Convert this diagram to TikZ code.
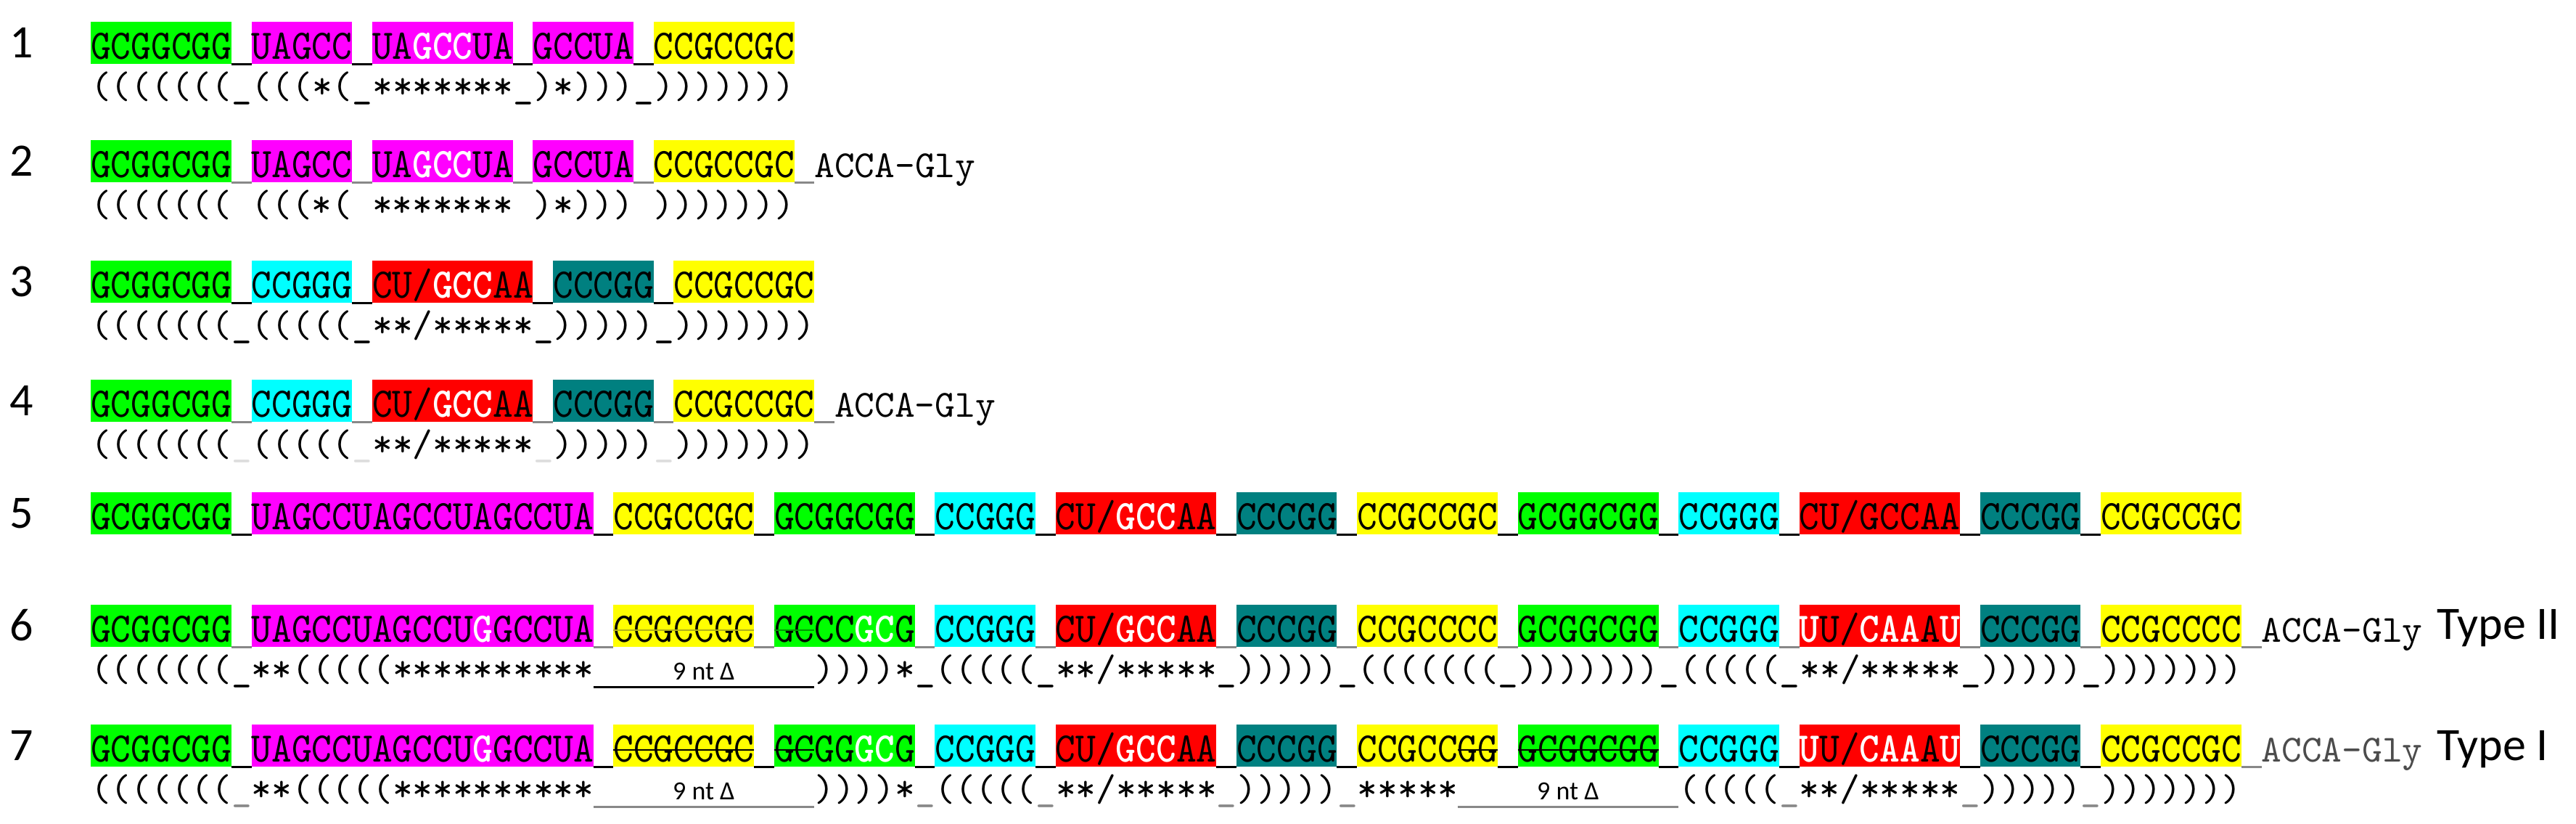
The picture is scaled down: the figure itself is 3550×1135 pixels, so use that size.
\documentclass[tikz,border=0pt]{standalone}
\usepackage{fontspec}
\newfontfamily\monof{lmmono10-regular.otf}[BoldFont=lmmonolt10-bold.otf]
\newfontfamily\labf{Carlito}
\definecolor{cgreen}{HTML}{00FF00}
\definecolor{cmag}{HTML}{FF00FF}
\definecolor{cyel}{HTML}{FFFF00}
\definecolor{ccyan}{HTML}{00FFFF}
\definecolor{cred}{HTML}{FF0000}
\definecolor{cteal}{HTML}{008080}
\definecolor{ugray}{HTML}{888888}
\definecolor{ulight}{HTML}{DDDDDD}
\newcommand\uB{\_}
\newcommand\uG{\textcolor{ugray}{\_}}
\newcommand\uL{\textcolor{ulight}{\_}}
\newcommand\W[1]{{\bfseries\color{white}#1}}
\newcommand\xc[1]{125+27.7*(#1)}
\newcommand\seg[5]{%
  \fill[#4] ({\xc{#2}},{#1-29}) rectangle ({\xc{#2+#3}},{#1+29});
  \node[seqtext] at ({\xc{#2}},{#1+22}) {\scalebox{1}[1.1]{#5}};}
\newcommand\gapl[3]{\draw[line width=3pt,#3] ({\xc{#2}},{#1+29}) -- ({\xc{#2+1}},{#1+29});}
\newcommand\strk[4]{\draw[line width=2.5pt,#4] ({\xc{#2}},{#1+6}) -- ({\xc{#2+#3}},{#1+6});}
\newcommand\st[3]{\node[seqtext] at ({\xc{#2}},{#1+76}) {#3};}
\newcommand\dele[4]{%
  \draw[line width=3pt,#4] ({\xc{#2}},{#1+84}) -- ({\xc{#2+#3}},{#1+84});
  \node[deltext] at ({\xc{#2+#3/2}},{#1+74}) {9 nt Δ};}
\tikzset{
  seqtext/.style={anchor=base west,inner sep=0pt,font=\monof\fontsize{52.8}{52.8}\selectfont},
  deltext/.style={anchor=base,inner sep=0pt,font=\labf\fontsize{36}{36}\selectfont},
  rowlabel/.style={anchor=base,inner sep=0pt,font=\labf\fontsize{64}{64}\selectfont},
}
\begin{document}
\begin{tikzpicture}[x=1pt,y=-1pt]
\useasboundingbox (0,0) rectangle (3550,1135);
% ---------- row 1
\def\Y{59}
\node[rowlabel] (n1) at (30,{\Y+20}) {1};
\seg{\Y}{0}{7}{cgreen}{GCGGCGG}\gapl{\Y}{7}{black}
\seg{\Y}{8}{5}{cmag}{UAGCC}\gapl{\Y}{13}{black}
\seg{\Y}{14}{7}{cmag}{UA\W{GCC}UA}\gapl{\Y}{21}{black}
\seg{\Y}{22}{5}{cmag}{GCCUA}\gapl{\Y}{27}{black}
\seg{\Y}{28}{7}{cyel}{CCGCCGC}
\st{\Y}{0}{(((((((\uB(((*(\uB*******\uB)*)))\uB)))))))}
% ---------- row 2
\def\Y{222}
\node[rowlabel] (n2) at (30,{\Y+20}) {2};
\seg{\Y}{0}{7}{cgreen}{GCGGCGG}\gapl{\Y}{7}{ugray}
\seg{\Y}{8}{5}{cmag}{UAGCC}\gapl{\Y}{13}{ugray}
\seg{\Y}{14}{7}{cmag}{UA\W{GCC}UA}\gapl{\Y}{21}{ugray}
\seg{\Y}{22}{5}{cmag}{GCCUA}\gapl{\Y}{27}{ugray}
\seg{\Y}{28}{7}{cyel}{CCGCCGC}\gapl{\Y}{35}{ugray}
\node[seqtext] at ({\xc{36}},{\Y+22}) {ACCA-Gly};
\st{\Y}{0}{(((((((}\st{\Y}{8}{(((*(}\st{\Y}{14}{*******}\st{\Y}{22}{)*)))}\st{\Y}{28}{)))))))}
% ---------- row 3
\def\Y{388}
\node[rowlabel] (n3) at (30,{\Y+20}) {3};
\seg{\Y}{0}{7}{cgreen}{GCGGCGG}\gapl{\Y}{7}{black}
\seg{\Y}{8}{5}{ccyan}{CCGGG}\gapl{\Y}{13}{black}
\seg{\Y}{14}{8}{cred}{CU/\W{GCC}AA}\gapl{\Y}{22}{black}
\seg{\Y}{23}{5}{cteal}{CCCGG}\gapl{\Y}{28}{black}
\seg{\Y}{29}{7}{cyel}{CCGCCGC}
\st{\Y}{0}{(((((((\uB(((((\uB**/*****\uB)))))\uB)))))))}
% ---------- row 4
\def\Y{552}
\node[rowlabel] (n4) at (30,{\Y+20}) {4};
\seg{\Y}{0}{7}{cgreen}{GCGGCGG}\gapl{\Y}{7}{ugray}
\seg{\Y}{8}{5}{ccyan}{CCGGG}\gapl{\Y}{13}{ugray}
\seg{\Y}{14}{8}{cred}{CU/\W{GCC}AA}\gapl{\Y}{22}{ugray}
\seg{\Y}{23}{5}{cteal}{CCCGG}\gapl{\Y}{28}{ugray}
\seg{\Y}{29}{7}{cyel}{CCGCCGC}\gapl{\Y}{36}{ugray}
\node[seqtext] at ({\xc{37}},{\Y+22}) {ACCA-Gly};
\st{\Y}{0}{(((((((\uL(((((\uL**/*****\uL)))))\uL)))))))}
% ---------- row 5
\def\Y{707}
\node[rowlabel] (n5) at (30,{\Y+20}) {5};
\seg{\Y}{0}{7}{cgreen}{GCGGCGG}\gapl{\Y}{7}{black}
\seg{\Y}{8}{17}{cmag}{UAGCCUAGCCUAGCCUA}\gapl{\Y}{25}{black}
\seg{\Y}{26}{7}{cyel}{CCGCCGC}\gapl{\Y}{33}{black}
\seg{\Y}{34}{7}{cgreen}{GCGGCGG}\gapl{\Y}{41}{black}
\seg{\Y}{42}{5}{ccyan}{CCGGG}\gapl{\Y}{47}{black}
\seg{\Y}{48}{8}{cred}{CU/\W{GCC}AA}\gapl{\Y}{56}{black}
\seg{\Y}{57}{5}{cteal}{CCCGG}\gapl{\Y}{62}{black}
\seg{\Y}{63}{7}{cyel}{CCGCCGC}\gapl{\Y}{70}{black}
\seg{\Y}{71}{7}{cgreen}{GCGGCGG}\gapl{\Y}{78}{black}
\seg{\Y}{79}{5}{ccyan}{CCGGG}\gapl{\Y}{84}{black}
\seg{\Y}{85}{8}{cred}{CU/GCCAA}\gapl{\Y}{93}{black}
\seg{\Y}{94}{5}{cteal}{CCCGG}\gapl{\Y}{99}{black}
\seg{\Y}{100}{7}{cyel}{CCGCCGC}
% ---------- row 6
\def\Y{862}
\node[rowlabel] (n6) at (30,{\Y+20}) {6};
\seg{\Y}{0}{7}{cgreen}{GCGGCGG}\gapl{\Y}{7}{ugray}
\seg{\Y}{8}{17}{cmag}{UAGCCUAGCCU\W{G}GCCUA}\gapl{\Y}{25}{ugray}
\seg{\Y}{26}{7}{cyel}{CCGCCGC}\gapl{\Y}{33}{ugray}
\seg{\Y}{34}{7}{cgreen}{GCCC\W{GC}G}\gapl{\Y}{41}{ugray}
\seg{\Y}{42}{5}{ccyan}{CCGGG}\gapl{\Y}{47}{ugray}
\seg{\Y}{48}{8}{cred}{CU/\W{GCC}AA}\gapl{\Y}{56}{ugray}
\seg{\Y}{57}{5}{cteal}{CCCGG}\gapl{\Y}{62}{ugray}
\seg{\Y}{63}{7}{cyel}{CCGCCCC}\gapl{\Y}{70}{ugray}
\seg{\Y}{71}{7}{cgreen}{GCGGCGG}\gapl{\Y}{78}{ugray}
\seg{\Y}{79}{5}{ccyan}{CCGGG}\gapl{\Y}{84}{ugray}
\seg{\Y}{85}{8}{cred}{\W{U}U/\W{CAA}A\W{U}}\gapl{\Y}{93}{ugray}
\seg{\Y}{94}{5}{cteal}{CCCGG}\gapl{\Y}{99}{ugray}
\seg{\Y}{100}{7}{cyel}{CCGCCCC}\gapl{\Y}{107}{ugray}
\strk{\Y}{26}{7}{black!25!cyel!80!gray}\strk{\Y}{34}{2}{black!40!cgreen}
\node[seqtext] at ({\xc{108}},{\Y+22}) {ACCA-Gly};
\node[rowlabel,anchor=base west] (t6) at (3358,{\Y+18}) {Type II};
\st{\Y}{0}{(((((((\uB**(((((**********}
\dele{\Y}{25}{11}{black}
\st{\Y}{36}{))))*\uB(((((\uB**/*****\uB)))))\uB(((((((\uB)))))))\uB(((((\uB**/*****\uB)))))\uB)))))))}
% ---------- row 7
\def\Y{1027}
\node[rowlabel] (n7) at (30,{\Y+20}) {7};
\seg{\Y}{0}{7}{cgreen}{GCGGCGG}\gapl{\Y}{7}{black}
\seg{\Y}{8}{17}{cmag}{UAGCCUAGCCU\W{G}GCCUA}\gapl{\Y}{25}{black}
\seg{\Y}{26}{7}{cyel}{CCGCCGC}\gapl{\Y}{33}{black}
\seg{\Y}{34}{7}{cgreen}{GCGG\W{GC}G}\gapl{\Y}{41}{black}
\seg{\Y}{42}{5}{ccyan}{CCGGG}\gapl{\Y}{47}{black}
\seg{\Y}{48}{8}{cred}{CU/\W{GCC}AA}\gapl{\Y}{56}{black}
\seg{\Y}{57}{5}{cteal}{CCCGG}\gapl{\Y}{62}{black}
\seg{\Y}{63}{7}{cyel}{CCGCCGG}\gapl{\Y}{70}{black}
\seg{\Y}{71}{7}{cgreen}{GCGGCGG}\gapl{\Y}{78}{black}
\seg{\Y}{79}{5}{ccyan}{CCGGG}\gapl{\Y}{84}{black}
\seg{\Y}{85}{8}{cred}{\W{U}U/\W{CAA}A\W{U}}\gapl{\Y}{93}{black}
\seg{\Y}{94}{5}{cteal}{CCCGG}\gapl{\Y}{99}{black}
\seg{\Y}{100}{7}{cyel}{CCGCCGC}\gapl{\Y}{107}{ugray}
\strk{\Y}{26}{7}{black}\strk{\Y}{34}{2}{black}\strk{\Y}{68}{2}{black}\strk{\Y}{71}{7}{black}
\node[seqtext,text=black!70] at ({\xc{108}},{\Y+22}) {ACCA-Gly};
\node[rowlabel,anchor=base west] (t7) at (3358,{\Y+20}) {Type I};
\st{\Y}{0}{(((((((\uG**(((((**********}
\dele{\Y}{25}{11}{ugray}
\st{\Y}{36}{))))*\uG(((((\uG**/*****\uG)))))\uG*****}
\dele{\Y}{68}{11}{ugray}
\st{\Y}{79}{(((((\uG**/*****\uG)))))\uG)))))))}
\end{tikzpicture}
\end{document}
